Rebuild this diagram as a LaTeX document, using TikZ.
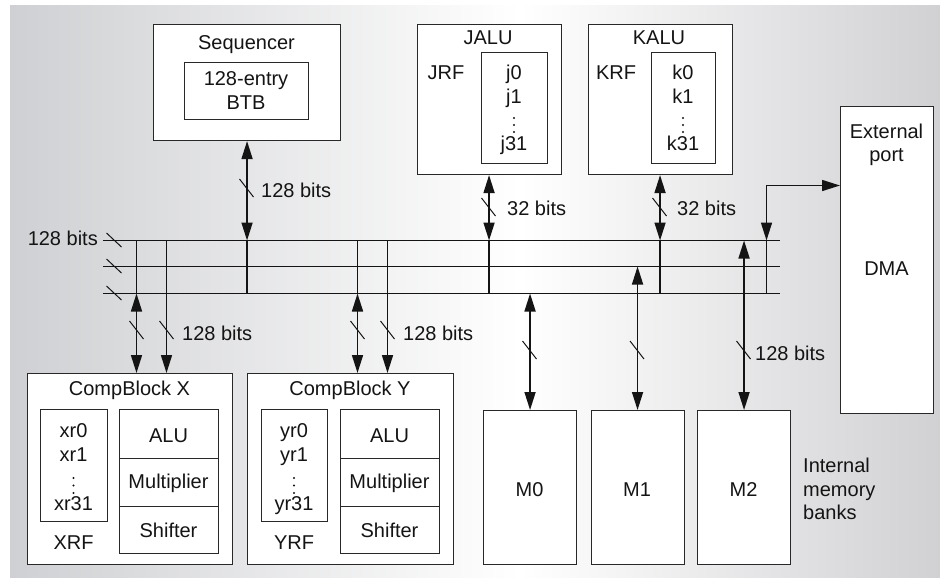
\documentclass[tikz,border=0pt]{standalone}
\usepackage{fontspec}
\setmainfont{Liberation Sans}
\usetikzlibrary{arrows.meta}
\definecolor{bgL}{RGB}{207,208,211}
\definecolor{bgR}{RGB}{209,209,212}
\definecolor{edge}{RGB}{40,40,40}
\definecolor{ink}{RGB}{20,20,20}
\begin{document}
\begin{tikzpicture}[x=1pt,y=-1pt,
  >={Triangle[length=18pt,width=11pt]},
  box/.style={draw=edge, fill=white, line width=1.1pt, inner sep=0pt, anchor=north west},
  txt/.style={anchor=base, inner sep=0pt, text=ink, font=\fontsize{20}{24}\selectfont},
  wtxt/.style={txt, anchor=base west},
  wire/.style={draw=ink, line width=1.6pt},
  slashv/.style={draw=ink, line width=1pt},
  dotc/.style={fill=ink}
]
\useasboundingbox (0,0) rectangle (940,578);
% background
\fill[left color=bgL, right color=white] (10,6) rectangle (520,578);
\fill[left color=white, right color=bgR] (519.5,6) rectangle (940,578);

% ---------- boxes ----------
\node[box, minimum width=187pt, minimum height=116pt] (seq) at (153,24) {};
\node[box, minimum width=124pt, minimum height=57pt] (btb) at (184,62) {};
\node[box, minimum width=144pt, minimum height=150pt] (jalu) at (416.5,24) {};
\node[box, minimum width=66pt, minimum height=111pt] (jrf) at (481,52) {};
\node[box, minimum width=144pt, minimum height=150pt] (kalu) at (587.5,24) {};
\node[box, minimum width=64pt, minimum height=111pt] (krf) at (651,52) {};
\node[box, minimum width=93pt, minimum height=307pt] (dma) at (840,106) {};

\node[box, minimum width=205pt, minimum height=191pt] (cbx) at (27,373) {};
\node[box, minimum width=67pt, minimum height=112pt] (xrf) at (40,409) {};
\node[box, minimum width=99pt, minimum height=49pt] (xalu) at (119,409) {};
\node[box, minimum width=99pt, minimum height=48pt] (xmul) at (119,458) {};
\node[box, minimum width=99pt, minimum height=47pt] (xsh) at (119,506) {};

\node[box, minimum width=206pt, minimum height=191pt] (cby) at (247,373) {};
\node[box, minimum width=66pt, minimum height=112pt] (yrf) at (261,409) {};
\node[box, minimum width=99pt, minimum height=49pt] (yalu) at (340,409) {};
\node[box, minimum width=99pt, minimum height=48pt] (ymul) at (340,458) {};
\node[box, minimum width=99pt, minimum height=47pt] (ysh) at (340,506) {};

\node[box, minimum width=93pt, minimum height=154pt] (m0) at (483,410) {};
\node[box, minimum width=93pt, minimum height=154pt] (m1) at (590.5,410) {};
\node[box, minimum width=93pt, minimum height=154pt] (m2) at (697,410) {};

% ---------- buses ----------
\coordinate (busA) at (103,240.5); \coordinate (busAe) at (780,240.5);
\coordinate (busB) at (103,266.5); \coordinate (busBe) at (780,266.5);
\coordinate (busC) at (103,293.5); \coordinate (busCe) at (780,293.5);
\draw[wire] (busA) -- (busAe);
\draw[wire] (busB) -- (busBe);
\draw[wire] (busC) -- (busCe);
\foreach \yy in {240,266,293} \draw[slashv] (114,\yy) +(-7.5,-7) -- +(7.5,7);
\node[txt, anchor=base east] (lbus) at (98,245) {128 bits};

% ---------- vertical connectors ----------
% Sequencer
\draw[wire, <->] (seq.south) -- (seq.south |- busA);
\draw[wire] (seq.south |- busA) -- (seq.south |- busC);
\draw[slashv] (246.5,188) +(-7,-9) -- +(7,9);
\node[wtxt] (lseq) at (261,197) {128 bits};
% JALU
\draw[wire, <->] (jalu.south) -- (jalu.south |- busA);
\draw[wire] (jalu.south |- busA) -- (jalu.south |- busC);
\draw[slashv] (488.5,207) +(-7,-9) -- +(7,9);
\node[wtxt] (ljalu) at (507,215) {32 bits};
% KALU
\draw[wire, <->] (kalu.south) -- (kalu.south |- busA);
\draw[wire] (kalu.south |- busA) -- (kalu.south |- busC);
\draw[slashv] (659.5,207) +(-7,-9) -- +(7,9);
\node[wtxt] (lkalu) at (677,215) {32 bits};
% External port
\coordinate (dmaA) at (766.5,240.5);
\coordinate (dmaC) at (766.5,293.5);
\coordinate (dmaK) at (766.5,185.5);
\draw[wire] (dmaA) -- (dmaC);
\draw[wire, <->] (dmaA) -- (dmaK) -- (dmaK -| dma.west);
% CompBlock X
\coordinate (xl) at (136.5,240.5);
\coordinate (xr) at (166.5,240.5);
\draw[wire] (xl) -- (xl |- busC);
\draw[wire, <->] (xl |- busC) -- (xl |- cbx.north);
\draw[wire, ->] (xr) -- (xr |- cbx.north);
\draw[slashv] (136.5,330) +(-7,-9) -- +(7,9);
\draw[slashv] (166.5,330) +(-7,-9) -- +(7,9);
\node[wtxt] (lx) at (182,340) {128 bits};
% CompBlock Y
\coordinate (yl) at (357.5,240.5);
\coordinate (yr) at (387.5,240.5);
\draw[wire] (yl) -- (yl |- busC);
\draw[wire, <->] (yl |- busC) -- (yl |- cby.north);
\draw[wire, ->] (yr) -- (yr |- cby.north);
\draw[slashv] (357.5,330) +(-7,-9) -- +(7,9);
\draw[slashv] (387.5,330) +(-7,-9) -- +(7,9);
\node[wtxt] (ly) at (403,340) {128 bits};
% Memory banks
\draw[wire, <->] (m0.north |- busC) -- (m0.north);
\draw[wire, <->] (m1.north |- busB) -- (m1.north);
\draw[wire, <->] (m2.north |- busA) -- (m2.north);
\draw[slashv] (529.5,350) +(-7,-9) -- +(7,9);
\draw[slashv] (637,350) +(-7,-9) -- +(7,9);
\draw[slashv] (743.5,350) +(-7,-9) -- +(7,9);
\node[wtxt] (lm2) at (755,360) {128 bits};

% ---------- texts ----------
\node[txt] (tseq) at (246.5,50) {Sequencer};
\node[txt] (tbtb1) at (246,85) {128-entry};
\node[txt] (tbtb2) at (246,110) {BTB};

\node[txt] (tjalu) at (488,45) {JALU};
\node[txt] (tjrf) at (446,80) {JRF};
\node[txt] (tj0) at (514,80) {j0};
\node[txt] (tj1) at (514,103) {j1};
\node[txt] (tj31) at (514,150) {j31};
\foreach \yy in {118,125,132} \fill[dotc] (514,\yy) circle (1.2pt);

\node[txt] (tkalu) at (659,45) {KALU};
\node[txt] (tkrf) at (616,80) {KRF};
\node[txt] (tk0) at (683,80) {k0};
\node[txt] (tk1) at (683,103) {k1};
\node[txt] (tk31) at (683,150) {k31};
\foreach \yy in {118,125,132} \fill[dotc] (683,\yy) circle (1.2pt);

\node[txt] (text) at (886.5,138) {External};
\node[txt] (tport) at (886.5,161) {port};
\node[txt] (tdma) at (886.5,275) {DMA};

\node[txt] (tcbx) at (129.5,395) {CompBlock X};
\node[txt] (txr0) at (73.5,437) {xr0};
\node[txt] (txr1) at (73.5,461) {xr1};
\node[txt] (txr31) at (73.5,510) {xr31};
\foreach \yy in {478,485.5,493} \fill[dotc] (73.5,\yy) circle (1.2pt);
\node[txt] (txrf) at (73.5,549) {XRF};
\node[txt] (txalu) at (168.5,442) {ALU};
\node[txt] (txmul) at (168.5,488) {Multiplier};
\node[txt] (txsh) at (168.5,537) {Shifter};

\node[txt] (tcby) at (350,395) {CompBlock Y};
\node[txt] (tyr0) at (294,437) {yr0};
\node[txt] (tyr1) at (294,461) {yr1};
\node[txt] (tyr31) at (294,510) {yr31};
\foreach \yy in {478,485.5,493} \fill[dotc] (294,\yy) circle (1.2pt);
\node[txt] (tyrf) at (294,549) {YRF};
\node[txt] (tyalu) at (389.5,442) {ALU};
\node[txt] (tymul) at (389.5,488) {Multiplier};
\node[txt] (tysh) at (389.5,537) {Shifter};

\node[txt] (tm0) at (529.5,496) {M0};
\node[txt] (tm1) at (637,496) {M1};
\node[txt] (tm2) at (743.5,496) {M2};

\node[wtxt] (tint1) at (803,472) {Internal};
\node[wtxt] (tint2) at (803,496) {memory};
\node[wtxt] (tint3) at (803,519) {banks};
\end{tikzpicture}
\end{document}
